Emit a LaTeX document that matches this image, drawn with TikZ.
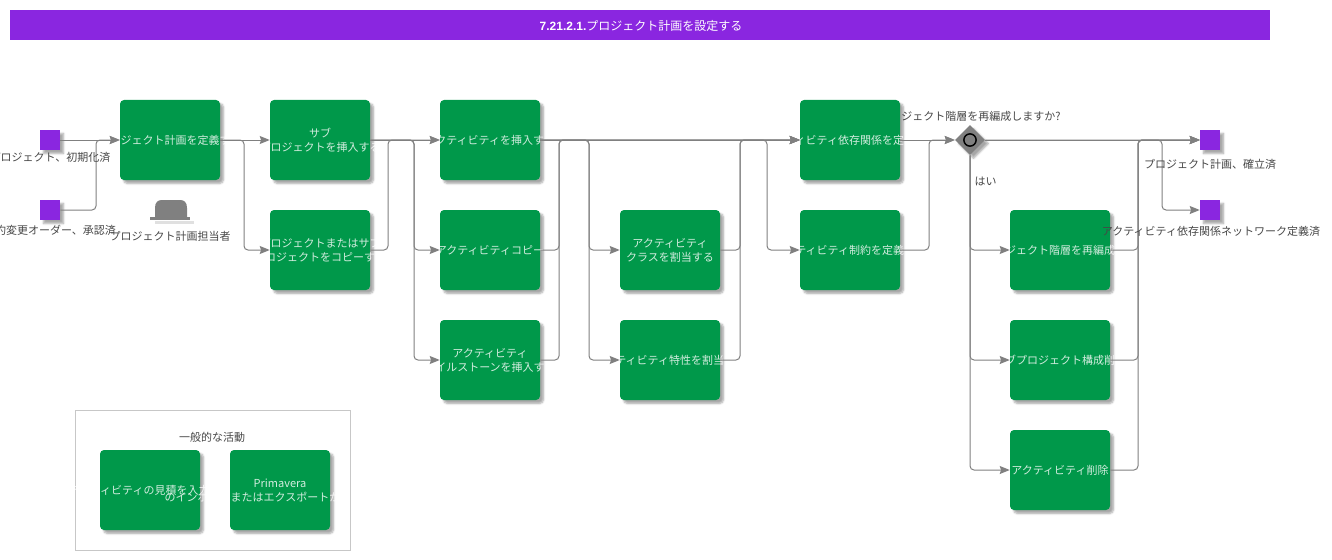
\documentclass[tikz,border=0pt]{standalone}
\usepackage{fontspec}
\setmainfont{Noto Sans CJK JP}
\newfontfamily\titlefont{Liberation Sans}
\usetikzlibrary{arrows.meta,shadows.blur,shapes.geometric}
\definecolor{barviolet}{RGB}{138,38,224}
\definecolor{taskgreen}{RGB}{0,152,74}
\definecolor{flowgray}{RGB}{128,128,128}
\tikzset{
  softshadow/.style={blur shadow={shadow xshift=2.6pt,shadow yshift=-2.6pt,shadow blur radius=1.5pt,shadow blur steps=5,shadow opacity=35}},
  taskbox/.style={fill=taskgreen,rounded corners=3pt,minimum width=75pt,minimum height=60pt,inner sep=0pt,softshadow},
  tasktext/.style={text=white,text opacity=.82,align=center,inner sep=0pt,font=\fontsize{8.25}{10.5}\selectfont},
  eventbox/.style={fill=barviolet,minimum width=15pt,minimum height=15pt,inner sep=0pt,softshadow},
  gatebox/.style={fill=flowgray,diamond,minimum width=22.5pt,minimum height=22.5pt,inner sep=0pt,softshadow},
  textlabel/.style={text=black!72,inner sep=0pt,font=\fontsize{8.25}{10.5}\selectfont},
  flow/.style={draw=flowgray,line width=0.75pt,rounded corners=3pt,-{Stealth[length=7.5pt,width=6pt,inset=1pt]}},
}

\begin{document}
\begin{tikzpicture}[x=0.75pt,y=0.75pt,yscale=-1,xscale=1]
\useasboundingbox (0,0) rectangle (1332,560);

%Shape: Title Bar
\node [fill=barviolet,minimum width=945pt,minimum height=22.5pt,inner sep=0pt] (bar) at (640,25) {};
% Text Node
\node [text=white,inner sep=0pt,font=\fontsize{9}{11}\selectfont] (barText) at (641,25.5) {{\titlefont\bfseries 7.21.2.1.}プロジェクト計画を設定する};

%Shape: Common Activities Frame
\node [draw=black!22,line width=0.75pt,minimum width=206.25pt,minimum height=105pt,inner sep=0pt] (frame) at (212.5,480) {};
% Text Node
\node [textlabel] (frameText) at (212,437.5) {一般的な活動};
% Text Node
\node [textlabel] (gateText) at (970,116.5) {プロジェクト階層を再編成しますか?};

%Shape: Start Events
\node [eventbox] (startOne) at (50,140) {};
\node [eventbox] (startTwo) at (50,210) {};
%Shape: End Events
\node [eventbox] (endOne) at (1210,140) {};
\node [eventbox] (endTwo) at (1210,210) {};

%Shape: Tasks
\node [taskbox,label={[tasktext]center:プロジェクト計画を定義する}] (defPlan) at (170,140) {};
\node [taskbox,label={[tasktext]center:サブ\\プロジェクトを挿入する}] (insSub) at (320,140) {};
\node [taskbox,label={[tasktext]center:プロジェクトまたはサブ\\プロジェクトをコピーする}] (copySub) at (320,250) {};
\node [taskbox,label={[tasktext]center:アクティビティを挿入する}] (insAct) at (490,140) {};
\node [taskbox,label={[tasktext]center:アクティビティコピー}] (copyAct) at (490,250) {};
\node [taskbox,label={[tasktext]center:アクティビティ\\マイルストーンを挿入する}] (insMile) at (490,360) {};
\node [taskbox,label={[tasktext]center:アクティビティ\\クラスを割当する}] (setClass) at (670,250) {};
\node [taskbox,label={[tasktext]center:アクティビティ特性を割当てる}] (setProp) at (670,360) {};
\node [taskbox,label={[tasktext]center:アクティビティ依存関係を定義する}] (defDep) at (850,140) {};
\node [taskbox,label={[tasktext]center:アクティビティ制約を定義する}] (defCon) at (850,250) {};
\node [taskbox,label={[tasktext]center:プロジェクト階層を再編成する}] (reorg) at (1060,250) {};
\node [taskbox,label={[tasktext]center:サブプロジェクト構成削除}] (delSub) at (1060,360) {};
\node [taskbox,label={[tasktext]center:アクティビティ削除}] (delAct) at (1060,470) {};
\node [taskbox,label={[tasktext]center:アクティビティの見積を入力する}] (estAct) at (150,490) {};
\node [taskbox,label={[tasktext]center:Primavera\\のインポートまたはエクスポートか\hphantom{あああああ}}] (expAct) at (280,490) {};

%Shape: Gateway
\node [gatebox] (gate) at (970,140) {};
\node [draw=black,line width=1.1pt,circle,minimum size=9.2pt,inner sep=0pt] (gateRing) at (970,140) {};

%Shape: Hat
\fill [black!12] (155,221) rectangle (194,224);
\fill [flowgray] (155,217) -- (155,208) .. controls (155,202) and (158,200) .. (162,200) -- (180,200) .. controls (184,200) and (187,202) .. (187,208) -- (187,217) -- cycle ;
\fill [flowgray] (150,217) rectangle (190,220);

% Branch Points
\coordinate (splitPlan) at (244,140);
\coordinate (mergeSub) at (388,140);
\coordinate (splitSub) at (414,140);
\coordinate (mergeAct) at (559,140);
\coordinate (splitAct) at (589,140);
\coordinate (mergeAttr) at (740,140);
\coordinate (splitAttr) at (767,140);
\coordinate (mergeDef) at (929,140);
\coordinate (mergeRe) at (1138,140);
\coordinate (splitEnd) at (1162,140);
\coordinate (turnStart) at (96,140);

%Straight Lines
\draw [flow] (startOne.east) -- (defPlan.west);
\draw [flow] (startTwo.east) -| (turnStart) -- (defPlan.west);
\draw [flow] (defPlan.east) -- (insSub.west);
\draw [flow] (defPlan.east) -- (splitPlan) |- (copySub.west);
\draw [flow] (insSub.east) -- (insAct.west);
\draw [flow] (copySub.east) -| (mergeSub) -- (insAct.west);
\draw [flow] (insSub.east) -- (splitSub) |- (copyAct.west);
\draw [flow] (insSub.east) -- (splitSub) |- (insMile.west);
\draw [flow] (insAct.east) -- (defDep.west);
\draw [flow] (copyAct.east) -| (mergeAct) -- (defDep.west);
\draw [flow] (insMile.east) -| (mergeAct) -- (defDep.west);
\draw [flow] (insAct.east) -- (splitAct) |- (setClass.west);
\draw [flow] (insAct.east) -- (splitAct) |- (setProp.west);
\draw [flow] (setClass.east) -| (mergeAttr) -- (defDep.west);
\draw [flow] (setProp.east) -| (mergeAttr) -- (defDep.west);
\draw [flow] (insAct.east) -- (splitAttr) |- (defCon.west);
\draw [flow] (defDep.east) -- (gate.west);
\draw [flow] (defCon.east) -| (mergeDef) -- (gate.west);
\draw [flow] (gate.east) -- (endOne.west);
\draw [flow] (gate.south) |- (reorg.west);
\draw [flow] (gate.south) |- (delSub.west);
\draw [flow] (gate.south) |- (delAct.west);
\draw [flow] (reorg.east) -| (mergeRe) -- (endOne.west);
\draw [flow] (delSub.east) -| (mergeRe) -- (endOne.west);
\draw [flow] (delAct.east) -| (mergeRe) -- (endOne.west);
\draw [flow] (gate.east) -- (splitEnd) |- (endTwo.west);

% Text Node
\node [textlabel] (startOneText) at (50,157.5) {プロジェクト、初期化済};
% Text Node
\node [textlabel] (startTwoText) at (50,230.5) {契約変更オーダー、承認済};
% Text Node
\node [textlabel] (hatText) at (170,236.5) {プロジェクト計画担当者};
% Text Node
\node [textlabel] (yesText) at (985.5,181.5) {はい};
% Text Node
\node [textlabel] (endOneText) at (1210,164.5) {プロジェクト計画、確立済};
% Text Node
\node [textlabel] (endTwoText) at (1211,231.5) {アクティビティ依存関係ネットワーク定義済};

\end{tikzpicture}
\end{document}
